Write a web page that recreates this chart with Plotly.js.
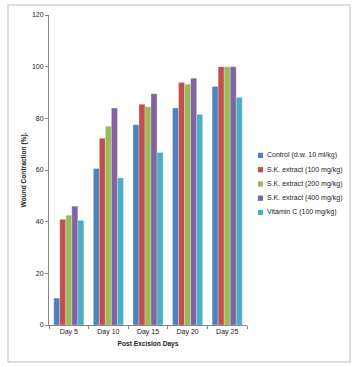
<!DOCTYPE html>
<html>
<head>
<meta charset="utf-8">
<script src="https://cdn.plot.ly/plotly-3.0.1.min.js"></script>
<style>html,body{margin:0;padding:0;background:#fff;}#chart{width:361px;height:367px;}</style>
</head>
<body>
<div id="chart"></div>
<script>
var days = ["Day 5", "Day 10", "Day 15", "Day 20", "Day 25"];
var seriesNames = ["Control (d.w. 10 ml/kg)", "S.K. extract (100 mg/kg)", "S.K. extract (200 mg/kg)", "S.K. extract (400 mg/kg)", "Vitamin C (100 mg/kg)"];
var control = [10.4, 60.6, 77.5, 84.0, 92.3];
var sk100 = [40.9, 72.3, 85.5, 93.9, 100];
var sk200 = [42.5, 76.9, 84.5, 93.2, 100];
var sk400 = [46.0, 84.0, 89.5, 95.5, 100];
var vitC = [40.5, 56.9, 66.8, 81.5, 88.1];
var yTicks = [0, 20, 40, 60, 80, 100, 120];

var colors = ["#4F81BD", "#C0504D", "#9BBB59", "#8064A2", "#4BACC6"];
var values = [control, sk100, sk200, sk400, vitC];
var font = "Liberation Sans, Arial, sans-serif";

var traces = values.map(function (v, i) {
  return {
    type: "bar", x: days, y: v, name: seriesNames[i],
    marker: {color: colors[i], line: {color: "rgba(255,255,255,0.45)", width: 0.6}},
    showlegend: false
  };
});

var shapes = [{
  type: "rect", xref: "paper", yref: "paper",
  x0: -0.207, x1: 1.520, y0: -0.119, y1: 1.032,
  line: {color: "#d4d4d4", width: 1.5}, fillcolor: "rgba(0,0,0,0)", layer: "below"
}];
var annotations = [];
var legX = 1.055, legY0 = 0.547, legStep = 0.046;
seriesNames.forEach(function (n, i) {
  var yc = legY0 - i * legStep;
  shapes.push({
    type: "rect", xref: "paper", yref: "paper",
    x0: legX, x1: legX + 0.026, y0: yc - 0.0085, y1: yc + 0.0085,
    line: {width: 0}, fillcolor: colors[i]
  });
  annotations.push({
    xref: "paper", yref: "paper", x: legX + 0.034, y: yc,
    xanchor: "left", yanchor: "middle", showarrow: false,
    text: n, font: {family: font, size: 7, color: "#222"}
  });
});

var layout = {
  width: 361, height: 367,
  margin: {l: 49, r: 114, t: 15, b: 42},
  paper_bgcolor: "#fff", plot_bgcolor: "#fff",
  barmode: "group", bargap: 0.24, bargroupgap: 0,
  showlegend: false,
  font: {family: font, size: 7, color: "#222"},
  xaxis: {
    type: "category", showline: true, linecolor: "#868686", linewidth: 1,
    ticks: "outside", tickson: "boundaries", ticklen: 3, tickcolor: "#868686",
    tickfont: {family: font, size: 7, color: "#222"},
    title: {text: "<b>Post Excision Days</b>", font: {family: font, size: 6.6, color: "#222"}, standoff: 5},
    showgrid: false, zeroline: false
  },
  yaxis: {
    range: [0, 120], tickvals: yTicks, showline: true, linecolor: "#868686", linewidth: 1,
    ticks: "outside", ticklen: 3, tickcolor: "#868686",
    tickfont: {family: font, size: 7, color: "#222"},
    title: {text: "<b>Wound Contraction (%).</b>", font: {family: font, size: 6.6, color: "#222"}, standoff: 4},
    showgrid: false, zeroline: false
  },
  shapes: shapes,
  annotations: annotations
};

Plotly.newPlot("chart", traces, layout, {staticPlot: true, displayModeBar: false});
</script>
</body>
</html>
